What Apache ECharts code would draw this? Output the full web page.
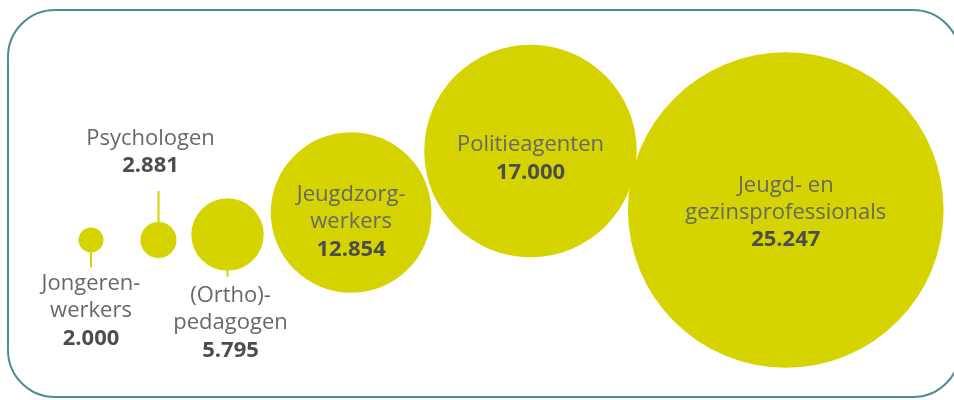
<!DOCTYPE html>
<html>
<head>
<meta charset="utf-8">
<script src="https://cdn.jsdelivr.net/npm/echarts@6/dist/echarts.min.js"></script>
<style>
html, body { margin: 0; padding: 0; background: #fff; }
#wrap { position: relative; width: 954px; height: 400px; overflow: hidden; }
#frame { position: absolute; left: 7px; top: 9px; width: 954px; height: 389px; box-sizing: border-box; border: 2px solid #4e8c95; border-radius: 48px; }
#chart { position: absolute; left: 0; top: 0; width: 954px; height: 400px; }
</style>
</head>
<body>
<div id="wrap"><div id="frame"></div><div id="chart"></div></div>
<script>
// data
var categories = ['Jongeren-\nwerkers', 'Psychologen', '(Ortho)-\npedagogen', 'Jeugdzorg-\nwerkers', 'Politieagenten', 'Jeugd- en\ngezinsprofessionals'];
var values = [2000, 2881, 5795, 12854, 17000, 25247];
var valueLabels = ['2.000', '2.881', '5.795', '12.854', '17.000', '25.247'];

// layout (px): bubble radius grows linearly with the value
var pxPerUnit = 0.00625;
var startX = 78.5;            // left edge of the first bubble
var baseY = 240;              // centre line of the small bubbles
var lift = [0, 0, 5.5, 27.5, 89, 30];
var gaps = [0, 37, 15, 9, 3, -2];
var labelSide = ['bottom', 'top', 'bottom', 'inside', 'inside', 'inside'];
var labelDist = [18, 42, 12, 0, 0, 0];
var labelShift = [[0, 0], [-8, 0], [3, 0], [0, 10], [0, 8], [0, 3]];
var stemLen = [15, 31, 6, 0, 0, 0];

var bubbleColor = '#d5d300';

var myChart = echarts.init(document.getElementById('chart'));

// pack the bubbles from left to right
var points = [];
var prevX, prevY, prevR;
for (var i = 0; i < values.length; i++) {
    var r = values[i] * pxPerUnit;
    var y = baseY - lift[i];
    var x;
    if (i == 0) {
        x = startX + r;
    } else {
        var d = prevR + r + gaps[i];
        var dy = y - prevY;
        x = prevX + Math.sqrt(Math.max(d * d - dy * dy, 0));
    }
    points.push([x, y, values[i]]);
    prevX = x; prevY = y; prevR = r;
}

function labelText(i) {
    var parts = categories[i].split('\n').map(function (s) { return '{n|' + s + '}'; });
    parts.push('{v|' + valueLabels[i] + '}');
    return parts.join('\n');
}

var scatterData = points.map(function (p, i) {
    return {
        name: categories[i],
        value: p,
        label: {
            position: labelSide[i],
            distance: labelDist[i],
            offset: labelShift[i],
            formatter: labelText(i)
        }
    };
});

option = {
    animation: false,
    grid: { left: 0, right: 0, top: 0, bottom: 0 },
    xAxis: { type: 'value', min: 0, max: 954, show: false },
    yAxis: { type: 'value', min: 0, max: 400, inverse: true, show: false },
    series: [
        {
            type: 'custom',
            data: points,
            z: 1,
            renderItem: function (params, api) {
                var i = params.dataIndex;
                if (!stemLen[i]) return null;
                var c = api.coord([api.value(0), api.value(1)]);
                var r = api.value(2) * pxPerUnit;
                var dir = labelSide[i] == 'top' ? -1 : 1;
                var y1 = c[1] + dir * (r - 1);
                var y2 = c[1] + dir * (r + stemLen[i]);
                return {
                    type: 'line',
                    shape: { x1: c[0], y1: y1, x2: c[0], y2: y2 },
                    style: { stroke: bubbleColor, lineWidth: 2 }
                };
            }
        },
        {
            type: 'scatter',
            z: 2,
            data: scatterData,
            symbol: 'circle',
            symbolSize: function (val) { return val[2] * pxPerUnit * 2; },
            itemStyle: { color: bubbleColor, opacity: 1 },
            emphasis: { disabled: true },
            label: {
                show: true,
                align: 'center',
                rich: {
                    n: { fontFamily: 'Open Sans', fontSize: 22, color: '#686868', lineHeight: 27, align: 'center' },
                    v: { fontFamily: 'Open Sans', fontSize: 22, fontWeight: 'bold', color: '#4d4d4d', lineHeight: 28, align: 'center' }
                }
            }
        }
    ]
};
myChart.setOption(option);
</script>
</body>
</html>
